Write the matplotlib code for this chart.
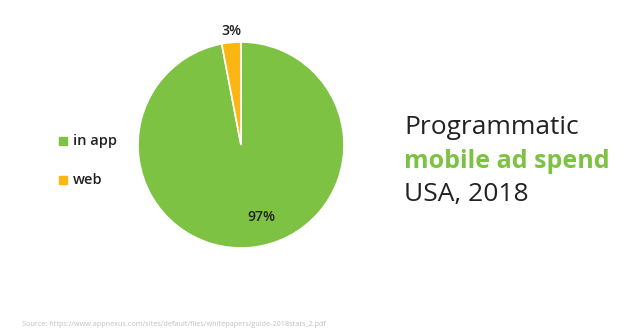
import matplotlib.pyplot as plt

labels = ['in app', 'web']
shares = [97, 3]
colors = ['#7dc242', '#fbb614']

plt.rcParams['font.family'] = ['Open Sans', 'DejaVu Sans']

fig = plt.figure(figsize=(6.37, 3.33), dpi=100)
fig.patch.set_facecolor('white')

# pie axis: centre ~ (241, 145) px, radius ~ 103 px
ax = fig.add_axes([(241 - 103) / 637, 1 - (145 + 103) / 333, 206 / 637, 206 / 333])
wedges, _ = ax.pie(shares, colors=colors, startangle=90, counterclock=False,
                   wedgeprops=dict(edgecolor='white', linewidth=1.2))
ax.set_aspect('equal')
ax.set_xlim(-1, 1)
ax.set_ylim(-1, 1)

ax.text(0.2, -0.7, f'{shares[0]}%', ha='center', va='center', fontsize=10,
        fontweight='semibold', color='#222222')
ax.text(-0.09, 1.11, f'{shares[1]}%', ha='center', va='center', fontsize=10,
        fontweight='semibold', color='#222222')

# legend on the left
for i, (lab, c) in enumerate(zip(labels, colors)):
    y = 1 - (141 + i * 39) / 333
    fig.patches.append(plt.Rectangle((59 / 637, y - 4 / 333), 8 / 637, 8 / 333,
                                     transform=fig.transFigure, color=c))
    fig.text(73 / 637, y, lab, ha='left', va='center', fontsize=10.5,
             fontweight='semibold', color='#222222')

# title block
fig.text(404 / 637, 1 - 128 / 333, 'Programmatic', ha='left', va='center',
         fontsize=19, color='#222222')
fig.text(404 / 637, 1 - 161 / 333, 'mobile ad spend', ha='left', va='center',
         fontsize=18, fontweight='bold', color='#7dc242')
fig.text(404 / 637, 1 - 194 / 333, 'USA, 2018', ha='left', va='center',
         fontsize=19, color='#222222')

fig.text(22 / 637, 1 - 325 / 333,
         'Source: https://www.appnexus.com/sites/default/files/whitepapers/guide-2018stats_2.pdf',
         ha='left', va='center', fontsize=5.2, color='#c0c0c0')

fig.savefig('out.png', dpi=100)
